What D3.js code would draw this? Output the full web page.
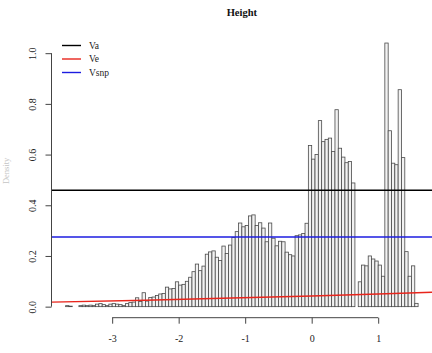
<!DOCTYPE html>
<html>
<head>
<meta charset="utf-8">
<script src="https://cdn.jsdelivr.net/npm/d3@7/dist/d3.min.js"></script>
<style>
  html, body { margin: 0; padding: 0; background: #fff; }
  svg { display: block; }
  text { font-family: "Liberation Serif", "DejaVu Serif", serif; }
</style>
</head>
<body>
<svg id="chart" width="432" height="353"></svg>
<script>
// Histogram of standardized height (density scale), bins of width 0.05
const binStart = -3.7;
const binWidth = 0.05;
const density = [
  0.004, 0.002, 0, 0, 0.004, 0.006, 0.004, 0.006, 0.004, 0.010,
  0.012, 0.008, 0.004, 0.010, 0.012, 0.010, 0.008, 0.004, 0.012, 0.016,
  0.018, 0.035, 0.020, 0.055, 0.022, 0.036, 0.038, 0.044, 0.050, 0.052,
  0.077, 0.070, 0.072, 0.098, 0.085, 0.088, 0.100, 0.116, 0.138, 0.168,
  0.142, 0.160, 0.207, 0.216, 0.220, 0.195, 0.182, 0.239, 0.210, 0.243,
  0.273, 0.296, 0.330, 0.315, 0.320, 0.358, 0.362, 0.320, 0.331, 0.310,
  0.256, 0.330, 0.270, 0.240, 0.258, 0.256, 0.215, 0.205, 0.200, 0.280,
  0.283, 0.289, 0.329, 0.636, 0.582, 0.600, 0.734, 0.651, 0.660, 0.665,
  0.612, 0.777, 0.625, 0.590, 0.568, 0.573, 0.488, 0, 0.098, 0.164,
  0.161, 0.200, 0.188, 0.180, 0.164, 0.120, 1.040, 0.694, 0.566, 0.560,
  0.856, 0.588, 0.217, 0.120, 0.161, 0.013
];

// Variance components drawn as reference lines
const vaLevel = 0.459;
const vsnpLevel = 0.275;
const veX = [-3.91, -2.5, -1.2, 0, 1, 1.81];
const veY = [0.018, 0.025, 0.034, 0.042, 0.050, 0.057];

const xTicks = [-3, -2, -1, 0, 1];
const yTicks = [0, 0.2, 0.4, 0.6, 0.8, 1.0];
const legendLabels = ["Va", "Ve", "Vsnp"];
const legendColors = ["#000000", "#e8251c", "#1c1ce0"];

const bins = density.map((d, i) => ({
  x0: binStart + i * binWidth,
  x1: binStart + (i + 1) * binWidth,
  d
}));

// Plot region with 4% padding on both axes
const xMin = binStart, xMax = binStart + density.length * binWidth;
const xPad = (xMax - xMin) * 0.04;
const yMax = d3.max(density);
const yPad = yMax * 0.04;

const plot = { left: 51.5, right: 432.2, top: 32.5, bottom: 317.2 };

const x = d3.scaleLinear().domain([xMin - xPad, xMax + xPad]).range([plot.left, plot.right]);
const y = d3.scaleLinear().domain([-yPad, yMax + yPad]).range([plot.bottom, plot.top]);

const svg = d3.select("#chart");

// Title
svg.append("text")
  .attr("x", (plot.left + plot.right) / 2)
  .attr("y", 16)
  .attr("text-anchor", "middle")
  .attr("font-size", 10.5)
  .attr("font-weight", "bold")
  .attr("fill", "#111")
  .text("Height");

// Bars
svg.append("g")
  .selectAll("rect")
  .data(bins)
  .join("rect")
  .attr("x", b => x(b.x0))
  .attr("width", b => x(b.x1) - x(b.x0))
  .attr("y", b => y(b.d))
  .attr("height", b => y(0) - y(b.d))
  .attr("fill", "#f2f2f2")
  .attr("stroke", "#4a4a4a")
  .attr("stroke-width", 0.8);

// Reference lines
const hline = (level, color) => svg.append("line")
  .attr("x1", plot.left).attr("x2", plot.right)
  .attr("y1", y(level)).attr("y2", y(level))
  .attr("stroke", color).attr("stroke-width", 1.4);
hline(vaLevel, legendColors[0]);
hline(vsnpLevel, legendColors[2]);

svg.append("path")
  .datum(veX.map((v, i) => [v, veY[i]]))
  .attr("fill", "none")
  .attr("stroke", legendColors[1])
  .attr("stroke-width", 1.4)
  .attr("d", d3.line().x(d => x(d[0])).y(d => y(d[1])));

// X axis (plain hyphen for negative numbers)
const xAxis = svg.append("g")
  .attr("transform", `translate(0,${plot.bottom + 0.5})`)
  .call(d3.axisBottom(x).tickValues(xTicks).tickFormat(d => String(d)).tickSize(6).tickPadding(11).tickSizeOuter(0));
xAxis.select(".domain").remove();
xAxis.append("line")
  .attr("x1", x(xTicks[0])).attr("x2", x(xTicks[xTicks.length - 1]))
  .attr("stroke", "#444");
xAxis.selectAll(".tick line").attr("stroke", "#444");
xAxis.selectAll("text")
  .attr("font-family", "Liberation Serif, serif")
  .attr("font-size", 10)
  .attr("fill", "#222");

// Y axis
const yAxis = svg.append("g")
  .attr("transform", `translate(${plot.left},0)`)
  .call(d3.axisLeft(y).tickValues(yTicks).tickFormat(d3.format(".1f")).tickSize(6).tickSizeOuter(0));
yAxis.select(".domain").remove();
yAxis.append("line")
  .attr("y1", y(yTicks[0])).attr("y2", y(yTicks[yTicks.length - 1]))
  .attr("stroke", "#444");
yAxis.selectAll(".tick line").attr("stroke", "#444");
yAxis.selectAll(".tick text")
  .attr("x", null).attr("dy", null)
  .attr("text-anchor", "middle")
  .attr("transform", "translate(-16,0) rotate(-90)")
  .attr("font-family", "Liberation Serif, serif")
  .attr("font-size", 10)
  .attr("fill", "#222");

// Y axis title
svg.append("text")
  .attr("transform", `translate(9,${(plot.top + plot.bottom) / 2 - 4}) rotate(-90)`)
  .attr("text-anchor", "middle")
  .attr("font-size", 8.5)
  .attr("fill", "#c4c4c4")
  .text("Density");

// Legend
const legend = svg.append("g");
legendLabels.forEach((lab, i) => {
  const ly = 45.5 + i * 13.5;
  legend.append("line")
    .attr("x1", 62).attr("x2", 81)
    .attr("y1", ly).attr("y2", ly)
    .attr("stroke", legendColors[i]).attr("stroke-width", 1.4);
  legend.append("text")
    .attr("x", 89).attr("y", ly + 3.3)
    .attr("font-size", 9.5)
    .attr("fill", "#222")
    .text(lab);
});
</script>
</body>
</html>
